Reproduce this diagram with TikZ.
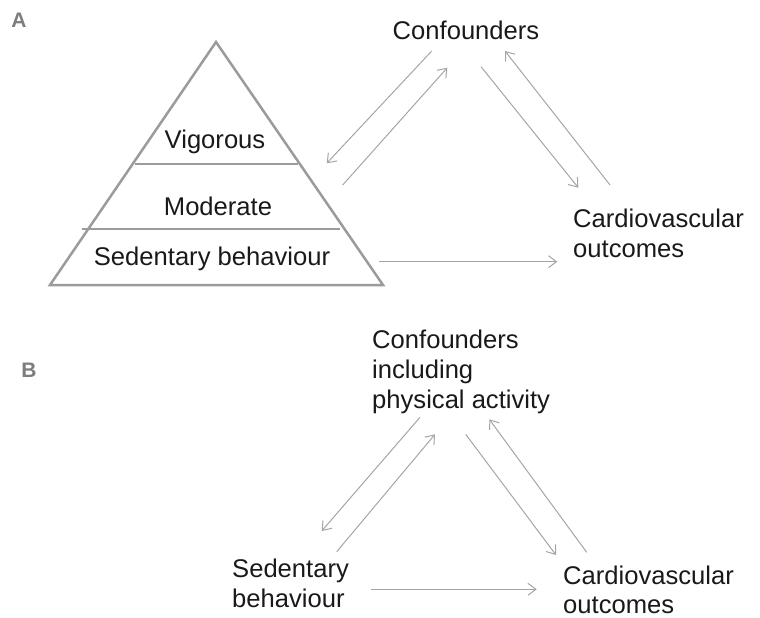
\documentclass[tikz,border=0pt]{standalone}
\usepackage{fontspec}
\setmainfont{Liberation Sans}
\usetikzlibrary{arrows.meta}
\definecolor{arrowgray}{RGB}{165,165,165}
\definecolor{pyrgray}{RGB}{155,155,155}
\definecolor{labelgray}{RGB}{125,125,125}
\begin{document}
\begin{tikzpicture}[x=1pt,y=-1pt,
 txt/.style={inner sep=0pt, font=\fontsize{25.6}{30}\selectfont, text=black!90},
 lbl/.style={inner sep=0pt, font=\fontsize{21}{24}\selectfont\bfseries, text=labelgray},
 conn/.style={draw=arrowgray, line width=1pt, -{Straight Barb[length=8pt,width=12pt]}},
 pyr/.style={draw=pyrgray, line width=2.5pt, line join=miter},
 band/.style={draw=pyrgray, line width=1.5pt}]
\useasboundingbox (0,0) rectangle (760,618);
% panel labels
\node[lbl] (labA) at (19,20) {A};
\node[lbl] (labB) at (29,370) {B};
% ---------- panel A ----------
\draw[pyr] (216,42) -- (383,285) -- (50,285) -- cycle;
\draw[band] (135,164) -- (298,164);
\draw[band] (82,229) -- (340,229);
\node[txt, anchor=base] (vig) at (215,148) {Vigorous};
\node[txt, anchor=base] (mod) at (218,215) {Moderate};
\node[txt, anchor=base] (sedA) at (212,265) {Sedentary behaviour};
\node[txt, anchor=base] (confA) at (466,40) {Confounders};
\node[txt, anchor=north west, align=left] (cvA) at (573,208.5) {Cardiovascular\\outcomes};
\coordinate (a1s) at (431.7,51);   \coordinate (a1e) at (326.7,163.3);
\coordinate (a2s) at (342.7,185);  \coordinate (a2e) at (447.3,67.7);
\coordinate (a3s) at (481,66.7);   \coordinate (a3e) at (578.3,187.7);
\coordinate (a4s) at (610,185);    \coordinate (a4e) at (505,51);
\coordinate (a5s) at (379.3,261.7);\coordinate (a5e) at (557.3,261.7);
\draw[conn] (a1s) -- (a1e);
\draw[conn] (a2s) -- (a2e);
\draw[conn] (a3s) -- (a3e);
\draw[conn] (a4s) -- (a4e);
\draw[conn] (a5s) -- (a5e);
% ---------- panel B ----------
\node[txt, anchor=north west, align=left] (confB) at (372,329.5) {Confounders\\including\\physical activity};
\node[txt, anchor=north west, align=left] (sedB) at (232,558.5) {Sedentary\\behaviour};
\node[txt, anchor=north west, align=left, font=\fontsize{25.6}{28.5}\selectfont] (cvB) at (563,566) {Cardiovascular\\outcomes};
\coordinate (b1s) at (420,417.3);  \coordinate (b1e) at (321.7,531);
\coordinate (b2s) at (336.7,551.7);\coordinate (b2e) at (435,434.3);
\coordinate (b3s) at (465.7,434.3);\coordinate (b3e) at (556,555);
\coordinate (b4s) at (586.7,552.3);\coordinate (b4e) at (489.3,419.3);
\coordinate (b5s) at (370.7,589.3);\coordinate (b5e) at (536.7,589.3);
\draw[conn] (b1s) -- (b1e);
\draw[conn] (b2s) -- (b2e);
\draw[conn] (b3s) -- (b3e);
\draw[conn] (b4s) -- (b4e);
\draw[conn] (b5s) -- (b5e);
\end{tikzpicture}
\end{document}
